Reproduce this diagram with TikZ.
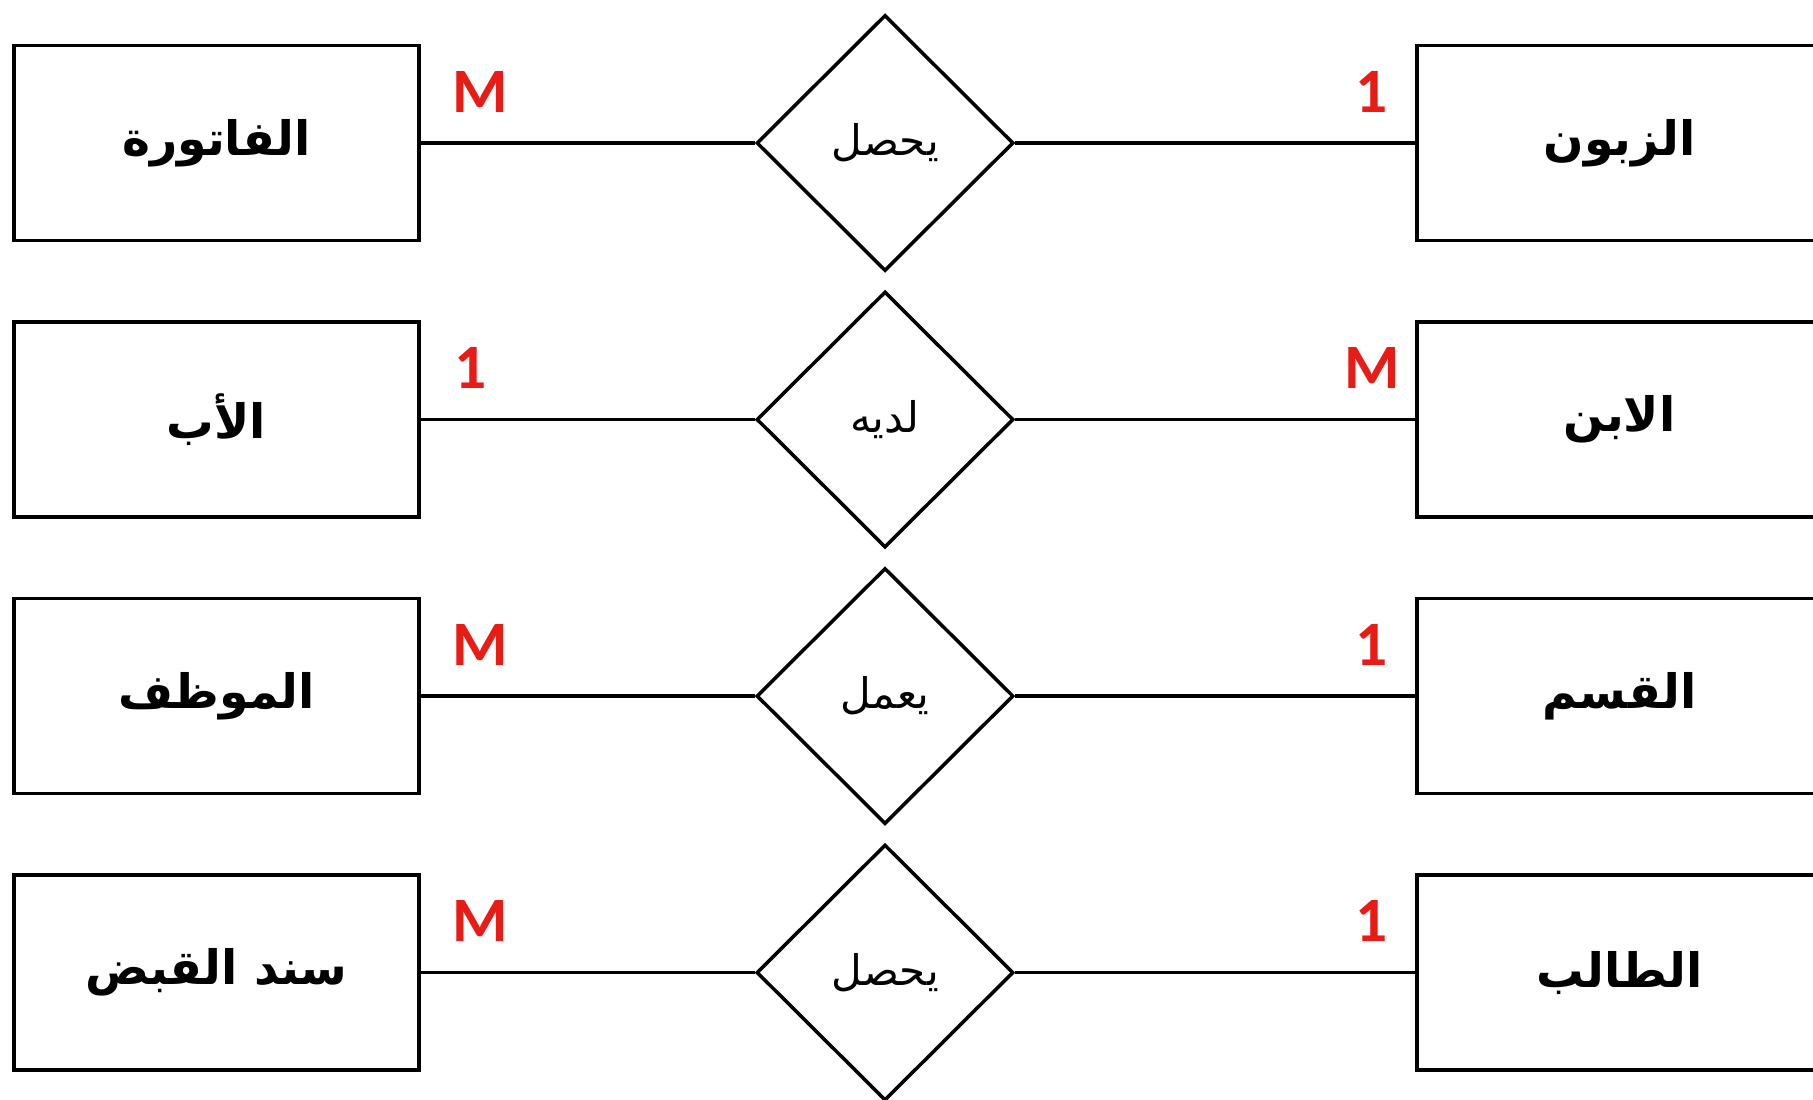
\documentclass[tikz,border=0pt]{standalone}
\usepackage{fontspec}
\setmainfont{Carlito}
\newfontfamily\arabicfont[Script=Arabic]{DejaVu Sans}
\TeXXeTstate=1
\usepackage{tikz}
\usetikzlibrary{shapes.geometric, positioning}
\definecolor{cardred}{RGB}{232,28,22}

\begin{document}
\begin{tikzpicture}[
        node distance=0.78cm and 3.34cm,
        entity/.style={rectangle, draw, line width=1pt, minimum width=4.05cm, minimum height=1.95cm, inner sep=0pt, font=\arabicfont\bfseries\fontsize{13.5}{16}\selectfont},
        relation/.style={diamond, draw, line width=1pt, minimum width=2.57cm, minimum height=2.56cm, inner sep=0pt, font=\arabicfont\fontsize{12}{14}\selectfont},
        card/.style={inner sep=0pt, text=cardred, font=\bfseries\fontsize{18}{21}\selectfont},
        link/.style={line width=1pt}
    ]
        \clip[use as bounding box] (0,0) rectangle (18.13,-10.99);

        \node[entity] (fatura) at (2.165,-1.43) {\beginR الفاتورة\endR};
        \node[entity, below=of fatura] (ab) {\beginR الأب\endR};
        \node[entity, below=of ab] (muwazzaf) {\beginR الموظف\endR};
        \node[entity, below=of muwazzaf] (sanad) {\beginR سند القبض\endR};

        \node[relation, right=of fatura] (yahsul) {\beginR يحصل\endR};
        \node[relation, right=of ab] (ladayh) {\beginR لديه\endR};
        \node[relation, right=of muwazzaf] (yamal) {\beginR يعمل\endR};
        \node[relation, right=of sanad] (yahsulb) {\beginR يحصل\endR};

        \node[entity, right=4.0cm of yahsul] (zabun) {\beginR الزبون\endR};
        \node[entity, right=4.0cm of ladayh] (ibn) {\beginR الابن\endR};
        \node[entity, right=4.0cm of yamal] (qism) {\beginR القسم\endR};
        \node[entity, right=4.0cm of yahsulb] (talib) {\beginR الطالب\endR};

        \draw[link] (fatura) -- (yahsul) -- (zabun);
        \draw[link] (ab) -- (ladayh) -- (ibn);
        \draw[link] (muwazzaf) -- (yamal) -- (qism);
        \draw[link] (sanad) -- (yahsulb) -- (talib);

        % cardinalities
        \node[card, above right=0.3cm and 0.31cm of fatura.east] (cfatura) {M};
        \node[card, above left=0.3cm and 0.27cm of zabun.west] (czabun) {1};
        \node[card, above right=0.3cm and 0.33cm of ab.east] (cab) {1};
        \node[card, above left=0.3cm and 0.15cm of ibn.west] (cibn) {M};
        \node[card, above right=0.3cm and 0.31cm of muwazzaf.east] (cmuwazzaf) {M};
        \node[card, above left=0.3cm and 0.27cm of qism.west] (cqism) {1};
        \node[card, above right=0.3cm and 0.31cm of sanad.east] (csanad) {M};
        \node[card, above left=0.3cm and 0.27cm of talib.west] (ctalib) {1};
    \end{tikzpicture}
\end{document}
